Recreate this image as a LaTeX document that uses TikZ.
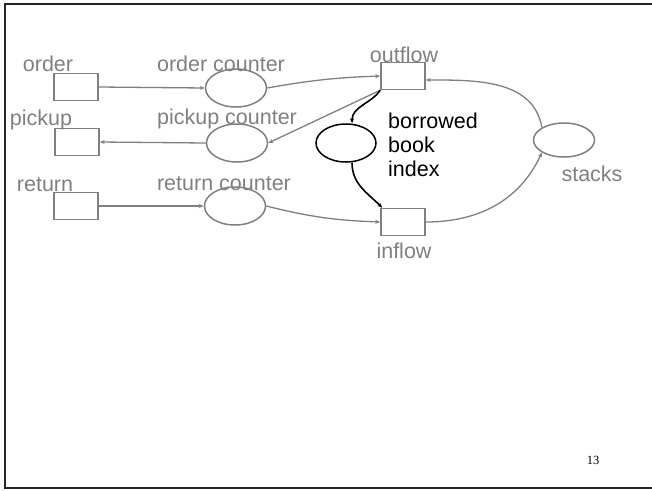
\documentclass[tikz,border=0pt]{standalone}
\usepackage{fontspec}
\setmainfont{Liberation Sans}
\newfontfamily\numfont{Liberation Serif}
\usetikzlibrary{arrows.meta,shapes.geometric}
\definecolor{netgray}{RGB}{128,128,128}

\begin{document}
\begin{tikzpicture}[x=1pt,y=-1pt,
                    >={Stealth[length=5pt,width=4pt]},
                    boxND/.style={rectangle,
                                  draw=netgray,
                                  line width=1.5pt,
                                  minimum width=44pt,
                                  minimum height=27pt,
                                  inner sep=0pt},
                    placeND/.style={ellipse,
                                    draw=netgray,
                                    line width=1.5pt,
                                    minimum width=61pt,
                                    minimum height=38pt,
                                    inner sep=0pt},
                    lbl/.style={text=netgray,
                                font=\fontsize{21.5}{24}\selectfont,
                                inner sep=0pt},
                    arc/.style={draw=netgray, line width=1.3pt, ->},
                    blk/.style={draw=black, line width=1.6pt, ->}]
        \useasboundingbox (0,0) rectangle (652,490);
        \draw[line width=2.5pt, black!85] (653,4) -- (5,4) -- (5,488) -- (653,488);
        % transitions
        \node[boxND](order)   at (76,87)   {};
        \node[boxND](pickup)  at (77,142)  {};
        \node[boxND](return)  at (76,206)  {};
        \node[boxND](outflow) at (403,76)  {};
        \node[boxND](inflow)  at (403,222) {};
        % places
        \node[placeND](ocnt)   at (236,88)  {};
        \node[placeND](pcnt)   at (237,143) {};
        \node[placeND](rcnt)   at (235,206) {};
        \node[placeND, draw=black, minimum width=60pt](index) at (346,143) {};
        \node[placeND, minimum height=34pt](stacks) at (564,140) {};
        % labels
        \node[lbl](lorder)   at (48,64)   {order};
        \node[lbl](lpickup)  at (41,120)  {pickup};
        \node[lbl](lreturn)  at (45,185)  {return};
        \node[lbl](locnt)    at (221,64)  {order counter};
        \node[lbl](lpcnt)    at (227,119) {pickup counter};
        \node[lbl](lrcnt)    at (224,184) {return counter};
        \node[lbl](loutflow) at (404,55)  {outflow};
        \node[lbl](linflow)  at (404,251) {inflow};
        \node[lbl](lstacks)  at (592,174) {stacks};
        \node[lbl, text=black, align=left, anchor=west](lindex) at (388,145)
            {borrowed\\book\\index};
        \node[inner sep=0pt, font=\numfont\fontsize{12.5}{14}\selectfont](page) at (593,460) {13};
        \path
            (order.east)  edge [arc] (ocnt.west)
            (pcnt.west)   edge [arc] (pickup.east)
            (return.east) edge [arc] (rcnt.west)
            (ocnt.east)   edge [arc, bend left=4] (outflow.west)
            (outflow.south west) edge [arc] (pcnt.east)
            (rcnt.east)   edge [arc, bend right=6] (inflow.west)
            (inflow.east) edge [arc, out=0, in=-115] (stacks.south west)
            (stacks.north west) edge [arc, out=100, in=0] ([yshift=-4pt]outflow.east)
            (outflow.south west) edge [blk, out=-125, in=90] ([xshift=6pt]index.north)
            ([xshift=6pt]index.south) edge [blk, out=-90, in=135] ([xshift=2pt]inflow.north west)
            ;
    \end{tikzpicture}
\end{document}
